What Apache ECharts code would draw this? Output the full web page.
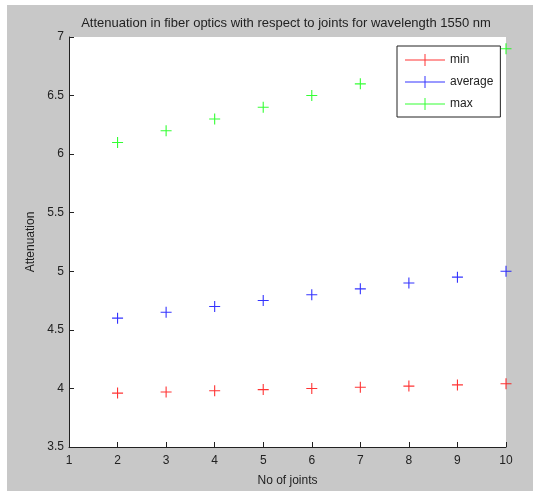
<!DOCTYPE html>
<html>
<head>
<meta charset="utf-8">
<title>Attenuation vs joints</title>
<script src="https://cdn.jsdelivr.net/npm/echarts@6/dist/echarts.min.js"></script>
<style>
  html, body { margin: 0; padding: 0; background: #fff; }
  #chart { position: absolute; left: 7px; top: 5px; width: 526px; height: 486px; }
</style>
</head>
<body>
<div id="chart"></div>
<script>
// joints on x, attenuation on y
var joints = [2, 3, 4, 5, 6, 7, 8, 9, 10];
var minVals = [3.96, 3.97, 3.98, 3.99, 4.0, 4.01, 4.02, 4.03, 4.04];
var avgVals = [4.6, 4.65, 4.7, 4.75, 4.8, 4.85, 4.9, 4.95, 5.0];
var maxVals = [6.1, 6.2, 6.3, 6.4, 6.5, 6.6, 6.7, 6.8, 6.9];
var seriesNames = ["min", "average", "max"];
var seriesColors = ["#ff0000", "#0000ff", "#00ff00"];

var CROSS = "path://M4.5,0H5.5V4.5H10V5.5H5.5V10H4.5V5.5H0V4.5H4.5Z";
var LEGEND_ICON = "path://M0,5.5H40V6.5H0Z M19.5,0H20.5V12H19.5Z";
var TEXT = "#222";
var FONT = "Liberation Sans";

function pairs(vals) {
  return joints.map(function (x, i) { return [x, vals[i]]; });
}

var chart = echarts.init(document.getElementById("chart"));

chart.setOption({
  backgroundColor: "#c8c8c8",
  animation: false,
  textStyle: { fontFamily: FONT },
  title: {
    text: "Attenuation in fiber optics with respect to joints for wavelength 1550 nm",
    left: 274,
    textAlign: "center",
    top: 7,
    textStyle: { fontSize: 13, fontWeight: "normal", color: TEXT, fontFamily: FONT }
  },
  grid: {
    left: 62, right: 27, top: 32, bottom: 44,
    outerBoundsMode: "none",
    show: true, backgroundColor: "#fff", borderWidth: 0
  },
  legend: {
    orient: "vertical",
    left: 390,
    top: 41,
    padding: [8, 7, 7, 8],
    itemGap: 10,
    itemWidth: 40,
    itemHeight: 12,
    backgroundColor: "#fff",
    borderColor: "#222",
    borderWidth: 1,
    borderRadius: 0,
    textStyle: { color: TEXT, fontSize: 12, fontFamily: FONT },
    data: seriesNames.map(function (n) { return { name: n, icon: LEGEND_ICON }; })
  },
  xAxis: {
    type: "value",
    min: 1, max: 10, interval: 1,
    name: "No of joints",
    nameLocation: "middle",
    nameGap: 28,
    nameTextStyle: { color: TEXT, fontSize: 12, fontFamily: FONT },
    axisLine: { onZero: false, lineStyle: { color: "#222", width: 1 } },
    axisTick: { inside: true, length: 5, lineStyle: { color: "#222" } },
    axisLabel: { color: TEXT, fontSize: 12, margin: 8, fontFamily: FONT },
    splitLine: { show: false }
  },
  yAxis: {
    type: "value",
    min: 3.5, max: 7, interval: 0.5,
    name: "Attenuation",
    nameLocation: "middle",
    nameGap: 32,
    nameTextStyle: { color: TEXT, fontSize: 12, fontFamily: FONT },
    axisLine: { show: true, onZero: false, lineStyle: { color: "#222", width: 1 } },
    axisTick: { show: true, inside: true, length: 5, lineStyle: { color: "#222" } },
    axisLabel: { color: TEXT, fontSize: 12, margin: 5, fontFamily: FONT },
    splitLine: { show: false }
  },
  series: [minVals, avgVals, maxVals].map(function (vals, i) {
    return {
      name: seriesNames[i],
      type: "scatter",
      symbol: CROSS,
      symbolSize: 11,
      itemStyle: { color: seriesColors[i] },
      data: pairs(vals)
    };
  })
});
</script>
</body>
</html>
